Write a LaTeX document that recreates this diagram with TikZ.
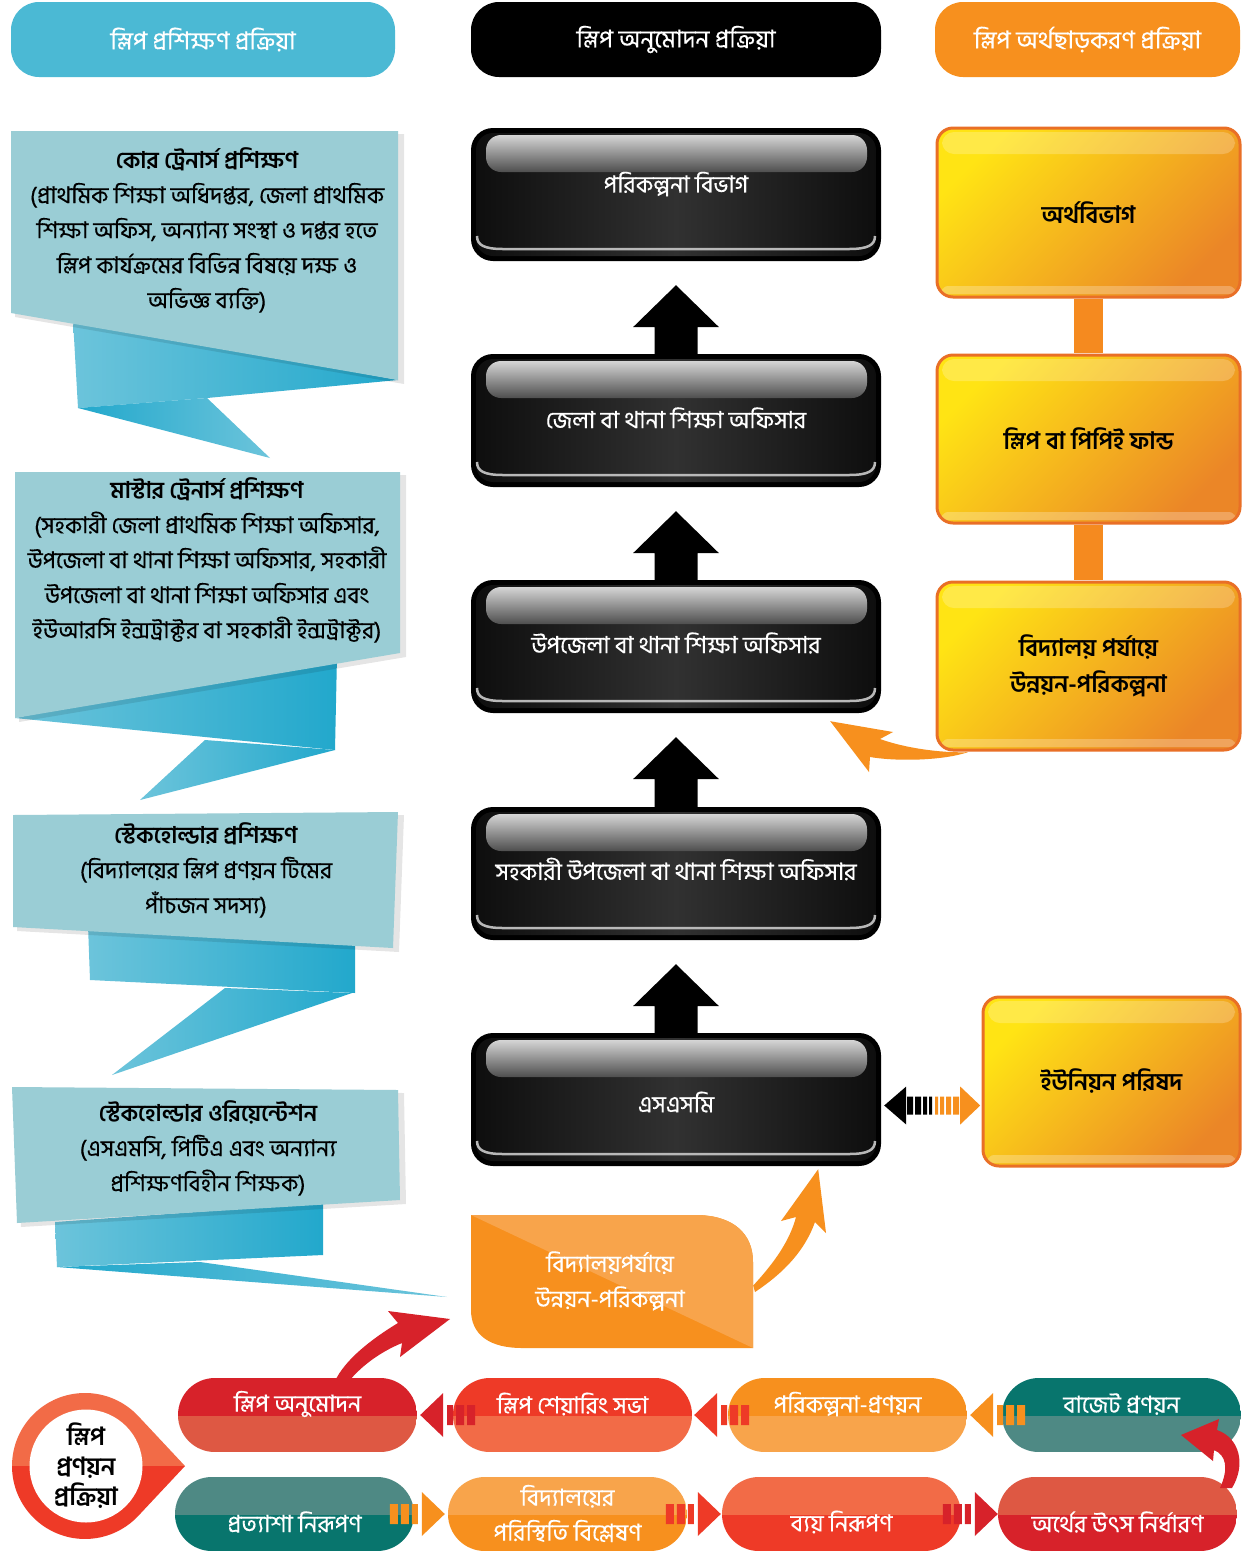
\documentclass[tikz,border=0pt]{standalone}
\usepackage{fontspec}
\newfontfamily\bn[Script=Bengali]{Hind Siliguri}
\newfontfamily\bnm[Script=Bengali,FakeBold=0.35]{Hind Siliguri}
\usetikzlibrary{calc}
\definecolor{hcyan}{HTML}{4BB9D4}
\definecolor{calbody}{HTML}{9ACDD5}
\definecolor{foldA}{HTML}{6CC4DB}
\definecolor{foldB}{HTML}{22A8CC}
\definecolor{horange}{HTML}{F7901E}
\definecolor{oyel}{HTML}{FFE414}
\definecolor{oorg}{HTML}{EB8627}
\definecolor{oborder}{HTML}{E96F26}
\definecolor{pred}{HTML}{D7222A}
\definecolor{predl}{HTML}{DE5843}
\definecolor{pro}{HTML}{EE3A27}
\definecolor{prol}{HTML}{F26B47}
\definecolor{por}{HTML}{F7901E}
\definecolor{porl}{HTML}{F8A44B}
\definecolor{pteal}{HTML}{08756D}
\definecolor{ptealn}{HTML}{4E8984}
\definecolor{bbedge}{HTML}{0E0E0E}
\definecolor{bbmid}{HTML}{313131}
\definecolor{bbglT}{HTML}{D5D5D5}
\definecolor{bbglB}{HTML}{4E4E4E}
\definecolor{bbline}{HTML}{B8B8B8}
\definecolor{conor}{HTML}{F58A1F}

\tikzset{
 box/.style={inner sep=0pt,draw=none},
 hdr/.style={rounded corners=28pt,minimum height=75pt,inner sep=0pt,text=white,font=\bnm\fontsize{24.5}{28}\selectfont},
 caltext/.style={align=center,text=black,font=\bnm\fontsize{23}{35}\selectfont},
 bbtext/.style={text=white,font=\bnm\fontsize{23.5}{28}\selectfont},
 obtext/.style={align=center,text=black,font=\bn\bfseries\fontsize{24}{36}\selectfont},
 piltext/.style={text=white,align=center,font=\bnm\fontsize{23.5}{35}\selectfont},
 calshadow/.style={black,opacity=0.10},
}

\newcommand\mkblack[5]{%
 \begin{scope}[shift={(#2,#3)}]
  \fill[black,rounded corners=22pt] (0,0) rectangle (410,133);
  \shade[left color=bbedge,right color=bbedge,middle color=bbmid,rounded corners=17pt] (5,5) rectangle (405,128);
  \shade[top color=bbglT,bottom color=bbglB,rounded corners=15pt] (15,7) rectangle (396,44);
  \draw[bbline,line width=2.5pt] (6,108) .. controls (6,117) and (13,121) .. (32,121) -- (378,121) .. controls (397,121) and (404,117) .. (404,108);
  \node[box,minimum width=410pt,minimum height=133pt] (#1) at (205,66.5) {};
  \node[bbtext] (#1t) at (205,#4) {#5};
 \end{scope}}

\newcommand\mkorange[6]{%
 \begin{scope}[shift={(#2,#3)}]
  \shadedraw[top color=oyel,bottom color=oorg,shading angle=45,draw=oborder,line width=3pt,rounded corners=16pt] (0,0) rectangle (#4,#5);
  \fill[white,opacity=.22,rounded corners=12pt] (5,4) rectangle ({#4-5},26);
  \fill[white,opacity=.25,rounded corners=6pt] (5,{#5-11}) rectangle ({#4-5},{#5-3});
  \node[box,minimum width=#4pt,minimum height=#5pt] (#1) at ({#4/2},{#5/2}) {};
  \node[obtext] (#1t) at ({#4/2},{#5/2}) {#6};
 \end{scope}}

\newcommand\mkpill[7]{%
 \begin{scope}[shift={(#2,#3)}]
  \begin{scope}
   \clip[rounded corners=36.9pt] (0,0) rectangle (239,74);
   \fill[#4] (0,0) rectangle (239,38);
   \fill[#5] (0,38) rectangle (239,74);
  \end{scope}
  \node[box,minimum width=239pt,minimum height=74pt] (#1) at (119.5,37) {};
  \node[piltext] (#1t) at (119.5,#7) {#6};
 \end{scope}}

\newcommand\mkleftarr[2]{%
 \begin{scope}[shift={#2}]
  \fill[#1] (0,0) -- (23,-22) -- (23,22) -- cycle;
  \fill[#1] (27,-10) rectangle (33,10) (36,-10) rectangle (44,10) (47,-10) rectangle (55,10);
 \end{scope}}

\newcommand\mkrightarr[2]{%
 \begin{scope}[shift={#2}]
  \fill[#1] (0,0) -- (-23,-22) -- (-23,22) -- cycle;
  \fill[#1] (-27,-10) rectangle (-33,10) (-36,-10) rectangle (-44,10) (-47,-10) rectangle (-55,10);
 \end{scope}}

\newcommand\blockup[2]{%
 \fill[black] ($(#2.north)+(-21.5,1)$) -- ($(#1.south)+(-21.5,66)$) -- ($(#1.south)+(-43,66)$) -- ($(#1.south)+(0,24)$) -- ($(#1.south)+(43,66)$) -- ($(#1.south)+(21.5,66)$) -- ($(#2.north)+(21.5,1)$) -- cycle;}

\begin{document}
\begin{tikzpicture}[x=1pt,y=-1pt,font=\bnm\fontsize{21}{35}\selectfont]
\useasboundingbox (0,0) rectangle (1252,1551);
\fill[white] (0,0) rectangle (1252,1551);

% headers
\node[hdr,fill=hcyan,minimum width=384pt] (hl) at (203,39.5) {স্লিপ প্রশিক্ষণ প্রক্রিয়া};
\node[hdr,fill=black,minimum width=410pt] (hm) at (676,39.5) {স্লিপ অনুমোদন প্রক্রিয়া};
\node[hdr,fill=horange,minimum width=305pt] (hr) at (1087.5,39.5) {স্লিপ অর্থছাড়করণ  প্রক্রিয়া};

% callout 1
\shade[left color=foldA,right color=foldB] (73,320) -- (398,380) -- (207,398) -- (78,408) -- cycle;
\shade[left color=foldB,right color=foldA] (78,408) -- (207,398) -- (270,458) -- cycle;
\fill[calshadow] (15,134) -- (404,134) -- (404,384) -- (15,317) -- cycle;
\fill[calbody] (11,131) -- (398,131) -- (398,380) -- (11,313) -- cycle;
\node[caltext] (c1) at (207,230) {{\bn\bfseries কোর ট্রেনার্স প্রশিক্ষণ}\\(প্রাথমিক শিক্ষা অধিদপ্তর, জেলা প্রাথমিক\\শিক্ষা অফিস, অন্যান্য সংস্থা ও দপ্তর হতে\\স্লিপ কার্যক্রমের বিভিন্ন বিষয়ে দক্ষ ও\\অভিজ্ঞ ব্যক্তি)};

% callout 2
\shade[left color=foldA,right color=foldB] (15,718) -- (337,656) -- (335,750) -- cycle;
\shade[left color=foldA,right color=foldB] (205,740) -- (335,750) -- (140,800) -- cycle;
\fill[calshadow] (19,475) -- (406,475) -- (406,657) -- (19,722) -- cycle;
\fill[calbody] (15,472) -- (400,472) -- (400,653) -- (15,718) -- cycle;
\node[caltext] (c2) at (207,560) {{\bn\bfseries মাস্টার ট্রেনার্স প্রশিক্ষণ}\\(সহকারী জেলা প্রাথমিক শিক্ষা অফিসার,\\উপজেলা বা থানা শিক্ষা অফিসার, সহকারী\\উপজেলা বা থানা শিক্ষা অফিসার এবং\\ইউআরসি ইন্সট্রাক্টর বা সহকারী ইন্সট্রাক্টর)};

% callout 3
\shade[left color=foldA,right color=foldB] (88,925) -- (355,945) -- (355,993) -- (90,980) -- cycle;
\shade[left color=foldA,right color=foldB] (225,988) -- (352,993) -- (112,1075) -- cycle;
\fill[calshadow] (17,818) -- (404,815) -- (399,952) -- (17,931) -- cycle;
\fill[calbody] (13,815) -- (398,812) -- (393,948) -- (13,927) -- cycle;
\node[caltext] (c3) at (206,870) {{\bn\bfseries স্টেকহোল্ডার প্রশিক্ষণ}\\(বিদ্যালয়ের স্লিপ প্রণয়ন টিমের\\পাঁচজন সদস্য)};

% callout 4
\shade[left color=foldA,right color=foldB] (55,1222) -- (323,1203) -- (323,1255) -- (57,1267) -- cycle;
\shade[left color=foldB,right color=foldA] (57,1267) -- (200,1262) -- (447,1297) -- cycle;
\fill[calshadow] (16,1090) -- (404,1093) -- (406,1204) -- (21,1227) -- cycle;
\fill[calbody] (12,1087) -- (398,1090) -- (400,1200) -- (17,1223) -- cycle;
\node[caltext] (c4) at (208,1148) {{\bn\bfseries স্টেকহোল্ডার ওরিয়েন্টেশন}\\(এসএমসি, পিটিএ এবং অন্যান্য\\প্রশিক্ষণবিহীন শিক্ষক)};

% black boxes
\mkblack{b1}{471}{128}{56}{পরিকল্পনা বিভাগ}
\mkblack{b2}{471}{354}{64}{জেলা বা থানা শিক্ষা অফিসার}
\mkblack{b3}{471}{580}{63}{উপজেলা বা থানা শিক্ষা অফিসার}
\mkblack{b4}{471}{807}{62}{সহকারী উপজেলা বা থানা শিক্ষা অফিসার}
\mkblack{b5}{471}{1033}{69}{এসএসমি}
\blockup{b1}{b2}
\blockup{b2}{b3}
\blockup{b3}{b4}
\blockup{b4}{b5}

% orange boxes
\mkorange{o1}{937}{128}{303}{169}{অর্থবিভাগ}
\mkorange{o2}{937}{355}{303}{168}{স্লিপ বা পিপিই ফান্ড}
\mkorange{o3}{937}{582}{303}{168}{বিদ্যালয় পর্যায়ে\\উন্নয়ন-পরিকল্পনা}
\mkorange{u}{983}{997}{257}{169}{ইউনিয়ন পরিষদ}
\fill[conor] ($(o1.south)+(-15,1.5)$) rectangle ($(o2.north)+(14,-1.5)$);
\fill[conor] ($(o2.south)+(-15,1.5)$) rectangle ($(o3.north)+(14,-1.5)$);

% double arrow SMC <-> union
\begin{scope}[shift={($(b5.east)+(3,6)$)}]
 \fill[black] (0,0) -- (22,-19) -- (22,19) -- cycle;
 \fill[black] (23,-9) rectangle (29,9) (31,-9) rectangle (37,9) (39,-9) rectangle (43,9) (45,-9) rectangle (48,9);
 \fill[por] (51,-9) rectangle (54,9) (56,-9) rectangle (60,9) (62,-9) rectangle (67,9) (69,-9) rectangle (75,9);
 \fill[por] (76,-19) -- (96,0) -- (76,19) -- cycle;
\end{scope}

% orange curved arrow o3 -> b3
\coordinate (oa1s) at ($(o3.south west)+(31,2)$);
\coordinate (oa1t) at ($(b3.south east)+(-51,8)$);
\fill[por] (oa1t) -- (893,732) -- (880,739) .. controls (905,748) and (940,753) .. (oa1s) .. controls (945,760) and (900,762) .. (870,757) -- (869,772) -- cycle;

% school plan box
\fill[por] (471,1215) -- (695,1215) .. controls (735,1215) and (753,1235) .. (753,1262) -- (753,1348) -- (522,1348) .. controls (490,1348) and (471,1335) .. (471,1310) -- cycle;
\begin{scope}
 \clip (471,1215) -- (695,1215) .. controls (735,1215) and (753,1235) .. (753,1262) -- (753,1348) -- cycle;
 \fill[porl] (471,1215) -- (753,1215) -- (753,1348) -- cycle;
\end{scope}
\node[box,minimum width=282pt,minimum height=133pt] (plan) at (612,1281.5) {};
\node[piltext] (plant) at (610,1281) {বিদ্যালয়পর্যায়ে\\উন্নয়ন-পরিকল্পনা};

% orange arrow plan -> b5
\coordinate (oa2s) at ($(plan.east)+(0,4)$);
\coordinate (oa2t) at ($(b5.south east)+(-63,3)$);
\fill[por] (oa2t) -- (826,1233) -- (815,1222) .. controls (805,1250) and (785,1272) .. (755,1292) -- (oa2s) .. controls (775,1262) and (790,1240) .. (796,1217) -- (781,1221) -- cycle;

% bottom pills
\mkpill{p1}{178}{1378}{pred}{predl}{স্লিপ অনুমোদন}{26}
\mkpill{p2}{453}{1378}{pro}{prol}{স্লিপ শেয়ারিং সভা}{26}
\mkpill{p3}{728}{1378}{por}{porl}{পরিকল্পনা-প্রণয়ন}{26}
\mkpill{p4}{1002}{1378}{pteal}{ptealn}{বাজেট প্রণয়ন}{26}
\mkpill{p5}{175}{1477}{ptealn}{pteal}{প্রত্যাশা নিরূপণ}{45}
\mkpill{p6}{448}{1477}{porl}{por}{বিদ্যালয়ের\\পরিস্থিতি বিশ্লেষণ}{36.5}
\mkpill{p7}{722}{1477}{prol}{pro}{ব্যয় নিরূপণ}{45}
\mkpill{p8}{998}{1477}{predl}{pred}{অর্থের উৎস নির্ধারণ}{45}

\mkleftarr{pred}{($(p1.east)+(3,0)$)}
\mkleftarr{pro}{($(p2.east)+(2,0)$)}
\mkleftarr{por}{($(p3.east)+(3,0)$)}
\mkrightarr{por}{($(p6.west)+(-3,0)$)}
\mkrightarr{pro}{($(p7.west)+(-1,0)$)}
\mkrightarr{pred}{($(p8.west)+(0,0)$)}

% red arrow p1 -> plan
\coordinate (ra1s) at ($(p1.north)+(-116,2)$);
\coordinate (ra1t) at ($(plan.west)+(-21,37)$);
\fill[pred] (450,1319) -- (388,1311) -- (398,1323) .. controls (370,1340) and (345,1360) .. (335,1381) -- (349,1381) .. controls (365,1362) and (385,1350) .. (402,1343) -- (400,1357) -- cycle;

% red loop arrow p8 -> p4
\fill[pred] (1181,1435) -- (1219,1419) -- (1217,1430) .. controls (1240,1438) and (1246,1465) .. (1232,1488) -- (1220,1488) .. controls (1229,1468) and (1226,1455) .. (1214,1450) -- (1213,1461) -- cycle;

% circle
\begin{scope}
 \clip (185,1466) -- (138.3,1416.1) arc[start angle=-43.1,end angle=-316.9,radius=73] -- cycle;
 \fill[prol] (0,1380) rectangle (200,1466);
 \fill[pro] (0,1466) rectangle (200,1560);
\end{scope}
\node[circle,fill=white,minimum size=113pt,inner sep=0pt,align=center,text=black,font=\bn\bfseries\fontsize{25}{30}\selectfont] (circ) at (86,1466) {স্লিপ\\প্রণয়ন\\প্রক্রিয়া};
\end{tikzpicture}
\end{document}
